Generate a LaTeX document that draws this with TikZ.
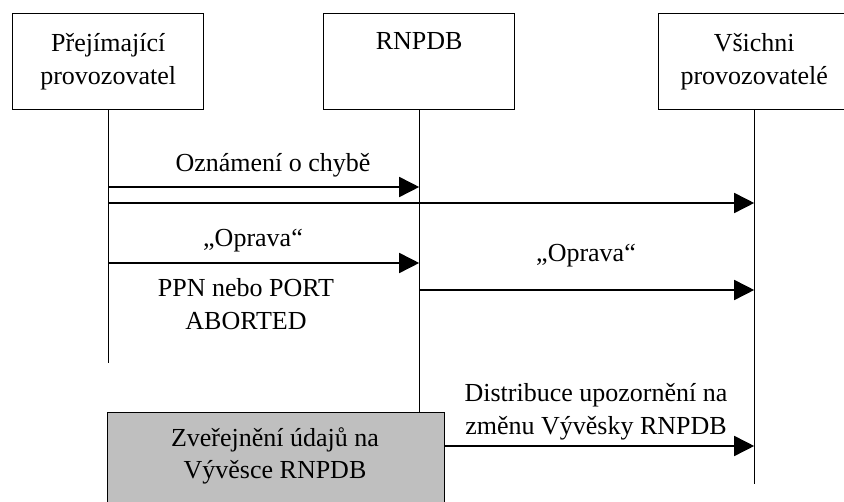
\documentclass[tikz,border=0pt]{standalone}
\usepackage{fontspec}
\setmainfont{Liberation Serif}
\usetikzlibrary{arrows.meta}
\begin{document}
\begin{tikzpicture}[x=1pt,y=-1pt,
  every node/.style={font=\fontsize{26}{32.5}\selectfont, inner sep=0pt},
  party/.style={draw, line width=1.4pt, minimum width=191pt, minimum height=96pt,
    align=center, anchor=north west},
  lifeline/.style={line width=1.4pt},
  msg/.style={line width=1.6pt, -{Triangle[length=20pt,width=20pt]}},
  notice/.style={draw, line width=1.4pt, fill=black!25, minimum width=337pt,
    minimum height=110pt, anchor=north west}
]
\useasboundingbox (0,0) rectangle (844,502);
\clip (0,0) rectangle (844,502);

% participants
\node[party] (pp) at (12,13)  {Přejímající\\provozovatel};
\node[party] (db) at (323,13) {RNPDB\\\strut};
\node[party] (vp) at (658,13) {Všichni\\provozovatelé};

% publication box
\node[notice] (gb) at (107,412) {};
\node[align=center] (gt) at (275,456) {Zveřejnění údajů na\\Vývěsce RNPDB};

% lifelines
\coordinate (ppEnd) at (pp.south |- 0,363);
\coordinate (vpEnd) at (vp.south |- 0,484);
\draw[lifeline] (pp.south) -- (ppEnd);
\draw[lifeline] (db.south) -- (db.south |- gb.north);
\draw[lifeline] (vp.south) -- (vpEnd);

% message end points
\coordinate (m1a) at (pp.south |- 0,187);
\coordinate (m1b) at (db.south |- 0,187);
\coordinate (m2a) at (pp.south |- 0,203);
\coordinate (m2b) at (vp.south |- 0,203);
\coordinate (m3a) at (pp.south |- 0,263);
\coordinate (m3b) at (db.south |- 0,263);
\coordinate (m4a) at (db.south |- 0,290);
\coordinate (m4b) at (vp.south |- 0,290);
\coordinate (m5a) at (gb.north east |- 0,446);
\coordinate (m5b) at (vp.south |- 0,446);

% messages
\draw[msg] (m1a) -- (m1b);
\draw[msg] (m2a) -- (m2b);
\draw[msg] (m3a) -- (m3b);
\draw[msg] (m4a) -- (m4b);
\draw[msg] (m5a) -- (m5b);

% message labels
\node (t1) at (273,165) {Oznámení o chybě};
\node (t3a) at (253,241) {„Oprava“};
\node[align=center] (t3b) at (246,304) {PPN nebo PORT\\ABORTED};
\node (t4) at (586,256) {„Oprava“};
\node[align=center] (t5) at (596,412) {Distribuce upozornění na\\změnu Vývěsky RNPDB};
\end{tikzpicture}
\end{document}
